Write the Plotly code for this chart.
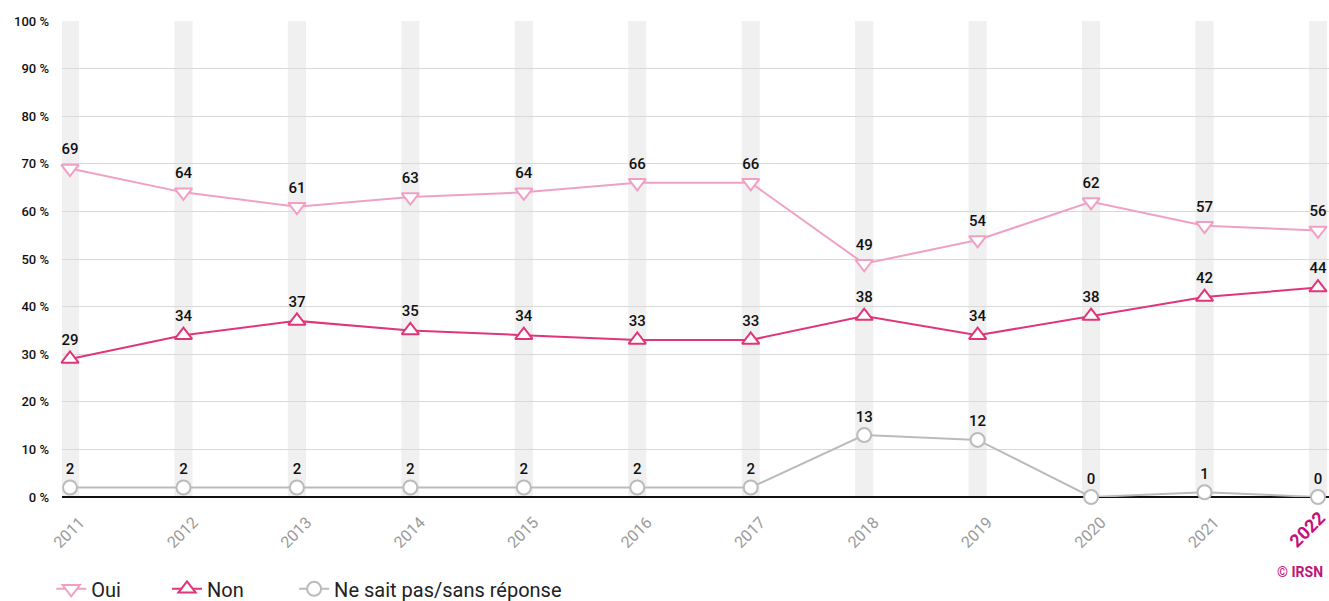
import plotly.graph_objects as go

years = ["2011","2012","2013","2014","2015","2016","2017","2018","2019","2020","2021","2022"]
oui = [69, 64, 61, 63, 64, 66, 66, 49, 54, 62, 57, 56]
non = [29, 34, 37, 35, 34, 33, 33, 38, 34, 38, 42, 44]
nsp = [2, 2, 2, 2, 2, 2, 2, 13, 12, 0, 1, 0]
y_ticks = [0, 10, 20, 30, 40, 50, 60, 70, 80, 90, 100]
y_labels = [f"{v} %" for v in y_ticks]

c_oui = "#f0a0c4"
c_non = "#e0357a"
c_nsp = "#bbbbbb"
c_mag = "#c2127a"
font = "Roboto"

fig = go.Figure()
xs = list(range(len(years)))

def add(name, vals, color, symbol, size, legend):
    fig.add_trace(go.Scatter(
        x=xs, y=vals, name=name, mode="lines+markers+text",
        line=dict(color=color, width=2),
        marker=dict(symbol=symbol, size=size, color="white", line=dict(color=color, width=2)),
        text=[str(v) for v in vals], textposition="top center",
        textfont=dict(family=font, size=15, color="#111111", weight=500),
        cliponaxis=False, legend=legend,
    ))

add("Oui", oui, c_oui, "triangle-down", 15, "legend")
add("Non", non, c_non, "triangle-up", 15, "legend2")
add("Ne sait pas/sans réponse", nsp, c_nsp, "circle", 14, "legend3")

shapes = []
for i in xs:
    shapes.append(dict(type="rect", xref="x", yref="paper", x0=i-0.08, x1=i+0.08, y0=0, y1=1,
                       fillcolor="#f0f0f0", line=dict(width=0), layer="below"))

# last year label is drawn as a highlighted annotation
ticktext = years[:-1] + [""]

def leg(x):
    return dict(orientation="h", x=x, y=-0.193, xanchor="left", yanchor="middle",
                font=dict(family=font, size=20, color="#222222"), itemwidth=30,
                bgcolor="rgba(0,0,0,0)")

fig.update_layout(
    width=1329, height=601,
    margin=dict(l=62, r=0, t=21, b=104, autoexpand=False),
    plot_bgcolor="white", paper_bgcolor="white",
    shapes=shapes,
    showlegend=True,
    legend=leg(-0.0085),
    legend2=leg(0.0829),
    legend3=leg(0.1832),
    font=dict(family=font),
    xaxis=dict(
        range=[-0.0705, 11.097], tickmode="array", tickvals=xs, ticktext=ticktext,
        tickangle=-45, tickfont=dict(family=font, size=16, color="#9a9a9a"),
        ticklabelshift=10, ticklabelstandoff=12,
        showgrid=False, zeroline=False, showline=False, fixedrange=True, automargin=False,
    ),
    yaxis=dict(
        range=[0, 100], tickmode="array", tickvals=y_ticks, ticktext=y_labels,
        tickfont=dict(family=font, size=13, color="#111111", weight=500),
        showgrid=True, gridcolor="#d9d9d9", gridwidth=1,
        zeroline=True, zerolinecolor="#111111", zerolinewidth=1.5,
        ticklabelstandoff=12, fixedrange=True, automargin=False,
    ),
    annotations=[
        dict(text="<b>© IRSN</b>", xref="paper", yref="paper", x=0.9968, y=-0.1576,
             xanchor="right", yanchor="middle", showarrow=False,
             font=dict(family=font, size=14, color=c_mag)),
        dict(text="<b>" + years[-1] + "</b>", xref="paper", yref="paper",
             x=(1307 - 62) / 1267, y=-0.0693, xanchor="center", yanchor="middle",
             textangle=-45, showarrow=False,
             font=dict(family=font, size=18, color=c_mag)),
    ],
)

fig.write_html("out.html", config={"displayModeBar": False},
               post_script="document.body.style.margin='0';document.body.style.overflow='hidden';")
